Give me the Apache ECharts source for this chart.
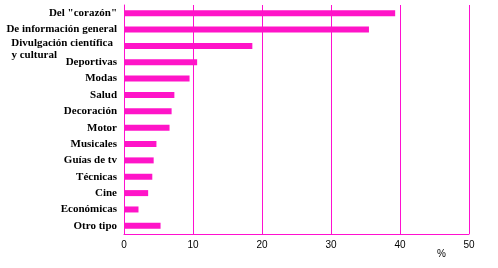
<!DOCTYPE html>
<html><head><meta charset="utf-8">
<script src="https://cdn.jsdelivr.net/npm/echarts@6/dist/echarts.min.js"></script>
<style>html,body{margin:0;padding:0;background:#fff}#c{width:498px;height:268px}</style>
</head><body><div id="c"></div>
<script>
const categories = ['Del "corazón"','De información general','Divulgación científica\ny cultural','Deportivas','Modas','Salud','Decoración','Motor','Musicales','Guías de tv','Técnicas','Cine','Económicas','Otro tipo'];
const values = [39.3, 35.5, 18.6, 10.6, 9.5, 7.3, 6.9, 6.6, 4.7, 4.3, 4.1, 3.5, 2.1, 5.3];
const xTicks = [0, 10, 20, 30, 40, 50];
const unitLabel = '%';

const lineColor = '#ff10d0';
const barColor = '#ff14c8';
const chart = echarts.init(document.getElementById('c'), null, {renderer:'canvas'});
chart.setOption({
  animation:false,
  backgroundColor:'#fff',
  grid:{left:124, right:29, top:5, bottom:34, containLabel:false, outerBoundsMode:'none'},
  xAxis:{type:'value', min:xTicks[0], max:xTicks[xTicks.length-1], interval:10,
    axisLine:{show:true, lineStyle:{color:lineColor, width:1}},
    axisTick:{show:false},
    splitLine:{show:true, lineStyle:{color:lineColor, width:1}},
    axisLabel:{color:'#000', fontFamily:'Liberation Sans', fontSize:10, margin:6}
  },
  yAxis:{type:'category', data:categories, inverse:true,
    axisLine:{show:true, lineStyle:{color:lineColor, width:1}},
    axisTick:{show:false},
    axisLabel:{color:'#000', fontFamily:'Liberation Serif', fontWeight:'bold', fontSize:11, margin:7,
      formatter:function(v){
        if(v.indexOf('\n')>=0){const p=v.split('\n'); return '{s| }\n{a|'+p[0]+'}\n{b|'+p[1]+'}';}
        return v;
      },
      rich:{
        s:{fontSize:6, lineHeight:7},
        a:{fontFamily:'Liberation Serif', fontWeight:'bold', fontSize:11, color:'#000', lineHeight:12, padding:[0,4,0,0]},
        b:{fontFamily:'Liberation Serif', fontWeight:'bold', fontSize:11, color:'#000', lineHeight:12, padding:[0,60,0,0]}
      }
    }
  },
  graphic:[{type:'text', left:437, top:249, style:{text:unitLabel, font:'10px Liberation Sans', fill:'#000'}}],
  series:[{type:'bar', data:values, barWidth:6, itemStyle:{color:barColor}}]
});
</script></body></html>
